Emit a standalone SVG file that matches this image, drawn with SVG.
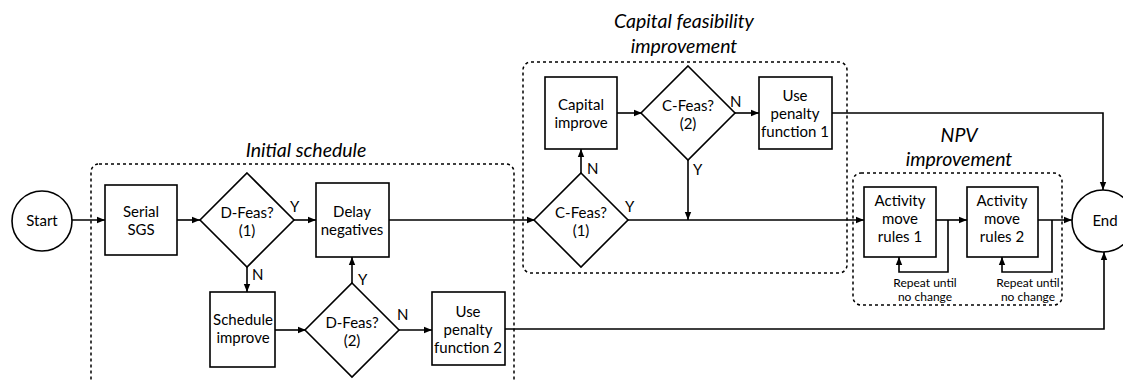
<svg xmlns="http://www.w3.org/2000/svg" width="1123" height="381" viewBox="0 0 1123 381">
  <defs>
    <marker id="arr" viewBox="0 0 10 10" refX="10" refY="5" markerWidth="8" markerHeight="8" markerUnits="userSpaceOnUse" orient="auto">
      <path d="M0,1 L10,5 L0,9 Z" fill="#000"/>
    </marker>
    <style>
      .box { fill: #fff; stroke: #000; stroke-width: 1.6; }
      .grp { fill: none; stroke: #000; stroke-width: 1.5; stroke-dasharray: 3 3; }
      .ln { fill: none; stroke: #000; stroke-width: 1.6; }
      .ar { marker-end: url(#arr); }
      text { font-family: Lato, "Liberation Sans", sans-serif; fill: #000; }
      .t { font-size: 15px; text-anchor: middle; }
      .yn { font-size: 15px; }
      .ttl { font-size: 19.5px; font-style: italic; text-anchor: middle; }
      .sm { font-size: 12px; text-anchor: middle; }
    </style>
  </defs>

  <!-- stage outlines -->
  <g id="stage-initial">
    <rect class="grp" x="91" y="164" width="423" height="240" rx="8"/>
    <text class="ttl" x="306" y="157">Initial schedule</text>
  </g>
  <g id="stage-capital">
    <rect class="grp" x="523" y="62" width="324" height="211" rx="8"/>
    <text class="ttl" x="684" y="28">Capital feasibility</text>
    <text class="ttl" x="684" y="53">improvement</text>
  </g>
  <g id="stage-npv">
    <rect class="grp" x="853" y="173" width="209" height="132" rx="8"/>
    <text class="ttl" x="959" y="142">NPV</text>
    <text class="ttl" x="959" y="166">improvement</text>
  </g>

  <!-- connectors -->
  <g id="connectors">
    <line class="ln ar" x1="72" y1="220" x2="105" y2="220"/>
    <line class="ln ar" x1="177" y1="220" x2="200" y2="220"/>
    <line class="ln ar" x1="294" y1="220" x2="316" y2="220"/>
    <line class="ln ar" x1="247" y1="267" x2="247" y2="292"/>
    <line class="ln ar" x1="275" y1="330" x2="306" y2="330"/>
    <line class="ln ar" x1="352" y1="283" x2="352" y2="257"/>
    <line class="ln ar" x1="399" y1="330" x2="432" y2="330"/>
    <line class="ln ar" x1="389" y1="220" x2="535" y2="220"/>
    <line class="ln ar" x1="581" y1="173" x2="581" y2="149"/>
    <line class="ln ar" x1="617" y1="113" x2="642" y2="113"/>
    <line class="ln ar" x1="735" y1="113" x2="759" y2="113"/>
    <line class="ln ar" x1="688" y1="160" x2="688" y2="220"/>
    <line class="ln ar" x1="628" y1="220" x2="864" y2="220"/>
    <line class="ln ar" x1="936" y1="220" x2="967" y2="220"/>
    <line class="ln ar" x1="1038" y1="220" x2="1072" y2="220"/>
    <polyline class="ln ar" points="948,220 948,272 899,272 899,257"/>
    <polyline class="ln ar" points="1052,220 1052,272 1002,272 1002,257"/>
    <polyline class="ln ar" points="832,113 1103,113 1103,190"/>
    <polyline class="ln ar" points="505,329 1104,329 1104,252"/>
    <text class="yn" x="290" y="212">Y</text>
    <text class="yn" x="252" y="280">N</text>
    <text class="yn" x="358" y="285">Y</text>
    <text class="yn" x="397" y="320">N</text>
    <text class="yn" x="587" y="174">N</text>
    <text class="yn" x="625" y="212">Y</text>
    <text class="yn" x="730" y="107">N</text>
    <text class="yn" x="693" y="175">Y</text>
    <text class="sm" x="925" y="287">Repeat until</text>
    <text class="sm" x="925" y="301">no change</text>
    <text class="sm" x="1028" y="287">Repeat until</text>
    <text class="sm" x="1028" y="301">no change</text>
  </g>

  <!-- nodes -->
  <g id="start">
    <circle class="box" cx="42" cy="221" r="30"/>
    <text class="t" x="42" y="226">Start</text>
  </g>
  <g id="serial-sgs">
    <rect class="box" x="105" y="185" width="72" height="70"/>
    <text class="t" x="141" y="217">Serial</text>
    <text class="t" x="141" y="235">SGS</text>
  </g>
  <g id="dfeas-1">
    <polygon class="box" points="247,173 294,220 247,267 200,220"/>
    <text class="t" x="247" y="218">D-Feas?</text>
    <text class="t" x="247" y="236">(1)</text>
  </g>
  <g id="delay-negatives">
    <rect class="box" x="316" y="183" width="73" height="74"/>
    <text class="t" x="352" y="217">Delay</text>
    <text class="t" x="352" y="235">negatives</text>
  </g>
  <g id="schedule-improve">
    <rect class="box" x="210" y="292" width="65" height="75"/>
    <text class="t" x="243" y="325">Schedule</text>
    <text class="t" x="243" y="343">improve</text>
  </g>
  <g id="dfeas-2">
    <polygon class="box" points="352,283 399,330 352,377 305,330"/>
    <text class="t" x="352" y="328">D-Feas?</text>
    <text class="t" x="352" y="346">(2)</text>
  </g>
  <g id="penalty-2">
    <rect class="box" x="432" y="292" width="73" height="73"/>
    <text class="t" x="468" y="317">Use</text>
    <text class="t" x="468" y="335">penalty</text>
    <text class="t" x="468" y="353">function 2</text>
  </g>
  <g id="cfeas-1">
    <polygon class="box" points="581,173 628,220 581,267 534,220"/>
    <text class="t" x="581" y="218">C-Feas?</text>
    <text class="t" x="581" y="236">(1)</text>
  </g>
  <g id="capital-improve">
    <rect class="box" x="545" y="77" width="72" height="72"/>
    <text class="t" x="581" y="110">Capital</text>
    <text class="t" x="581" y="128">improve</text>
  </g>
  <g id="cfeas-2">
    <polygon class="box" points="688,66 735,113 688,160 641,113"/>
    <text class="t" x="688" y="111">C-Feas?</text>
    <text class="t" x="688" y="129">(2)</text>
  </g>
  <g id="penalty-1">
    <rect class="box" x="759" y="77" width="73" height="72"/>
    <text class="t" x="795" y="101">Use</text>
    <text class="t" x="795" y="119">penalty</text>
    <text class="t" x="795" y="137">function 1</text>
  </g>
  <g id="move-rules-1">
    <rect class="box" x="864" y="187" width="72" height="70"/>
    <text class="t" x="900" y="206">Activity</text>
    <text class="t" x="900" y="224">move</text>
    <text class="t" x="900" y="242">rules 1</text>
  </g>
  <g id="move-rules-2">
    <rect class="box" x="967" y="187" width="71" height="70"/>
    <text class="t" x="1002" y="206">Activity</text>
    <text class="t" x="1002" y="224">move</text>
    <text class="t" x="1002" y="242">rules 2</text>
  </g>
  <g id="end">
    <circle class="box" cx="1103" cy="221" r="31"/>
    <text class="t" x="1105" y="226">End</text>
  </g>
</svg>
